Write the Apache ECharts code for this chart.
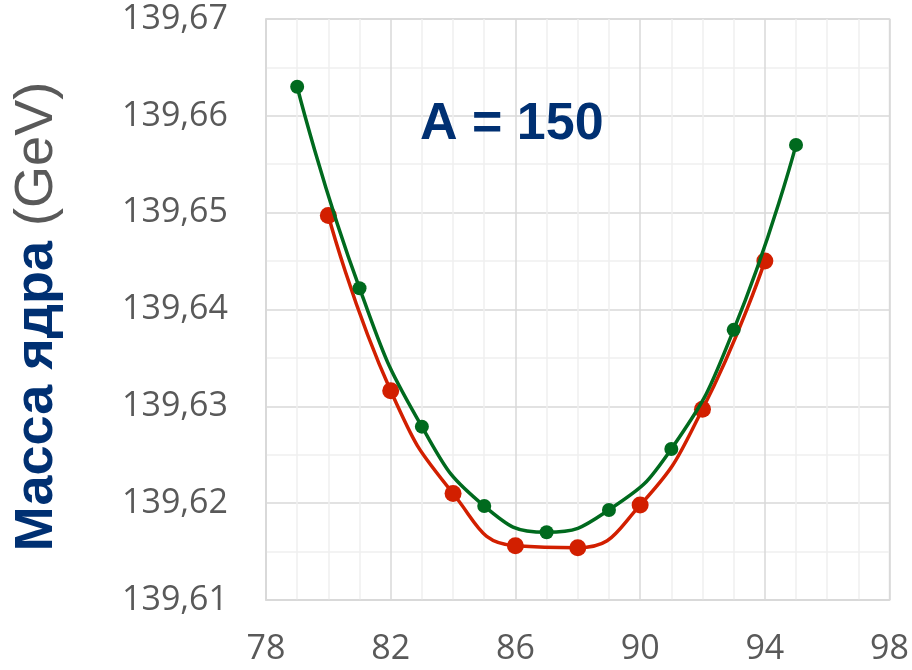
<!DOCTYPE html>
<html>
<head>
<meta charset="utf-8">
<script src="https://cdn.jsdelivr.net/npm/echarts@6/dist/echarts.min.js"></script>
<style>
html,body{margin:0;padding:0;background:#fff;}
#c{width:912px;height:670px;}
</style>
</head>
<body>
<div id="c"></div>
<script>
// Data
const greenX = [79, 81, 83, 85, 87, 89, 91, 93, 95];
const greenY = [139.6630, 139.6422, 139.6279, 139.6197, 139.6170, 139.6193, 139.6256, 139.6379, 139.6570];
const redX = [80, 82, 84, 86, 88, 90, 92, 94];
const redY = [139.6497, 139.6316, 139.6210, 139.6156, 139.6154, 139.6198, 139.6297, 139.6450];
const xTicks = [78, 82, 86, 90, 94, 98];
const yTicks = [139.61, 139.62, 139.63, 139.64, 139.65, 139.66, 139.67];
const yAxisTitleBold = 'Масса ядра';
const yAxisTitleUnit = '(GeV)';
const annotation = 'A = 150';

const chart = echarts.init(document.getElementById('c'), null, {renderer: 'canvas'});
const pair = (xs, ys) => xs.map((x, i) => [x, ys[i]]);

const option = {
  animation: false,
  backgroundColor: '#ffffff',
  grid: {left: 266, right: 22, top: 19, bottom: 70, show: true, borderColor: '#d9d9d9', borderWidth: 1.5},
  xAxis: {
    type: 'value',
    min: xTicks[0], max: xTicks[xTicks.length - 1], interval: 4,
    axisLine: {show: true, lineStyle: {color: '#d9d9d9', width: 1.5}},
    axisTick: {show: false},
    axisLabel: {color: '#595959', fontSize: 34, fontFamily: 'Open Sans', margin: 32},
    splitLine: {show: true, lineStyle: {color: '#d9d9d9', width: 1.5}},
    minorTick: {show: false, splitNumber: 4},
    minorSplitLine: {show: true, lineStyle: {color: '#efefef', width: 1.5}}
  },
  yAxis: {
    type: 'value',
    min: yTicks[0], max: yTicks[yTicks.length - 1], interval: 0.01,
    axisLine: {show: true, lineStyle: {color: '#d9d9d9', width: 1.5}},
    axisTick: {show: false},
    axisLabel: {
      color: '#595959', fontSize: 34, fontFamily: 'Open Sans', margin: 38,
      formatter: v => v.toFixed(2).replace('.', ',')
    },
    splitLine: {show: true, lineStyle: {color: '#d9d9d9', width: 1.5}},
    minorTick: {show: false, splitNumber: 2},
    minorSplitLine: {show: true, lineStyle: {color: '#efefef', width: 1.5}},
    name: '{b|' + yAxisTitleBold + '}{r|\u00a0' + yAxisTitleUnit + '}',
    nameLocation: 'middle',
    nameRotate: 90,
    nameGap: 202,
    nameTextStyle: {
      padding: [0, 14, 0, 0],
      rich: {
        b: {fontFamily: 'Liberation Sans', fontWeight: 'bold', fontSize: 54, color: '#003072'},
        r: {fontFamily: 'Liberation Sans', fontWeight: 'normal', fontSize: 54, color: '#595959'}
      }
    }
  },
  series: [
    {
      name: 'red', type: 'line', data: pair(redX, redY), smooth: 0.5,
      symbol: 'circle', symbolSize: 17,
      lineStyle: {color: '#d21f00', width: 3.5},
      itemStyle: {color: '#d21f00'}, z: 2
    },
    {
      name: 'green', type: 'line', data: pair(greenX, greenY), smooth: 0.5,
      symbol: 'circle', symbolSize: 14,
      lineStyle: {color: '#006a1e', width: 3.5},
      itemStyle: {color: '#006a1e'}, z: 3
    }
  ],
  graphic: [
    {
      type: 'text', left: 420, top: 99, z: 100,
      style: {text: annotation, fill: '#003072', fontFamily: 'Liberation Sans', fontWeight: 'bold', fontSize: 52}
    }
  ]
};
chart.setOption(option);
</script>
</body>
</html>
